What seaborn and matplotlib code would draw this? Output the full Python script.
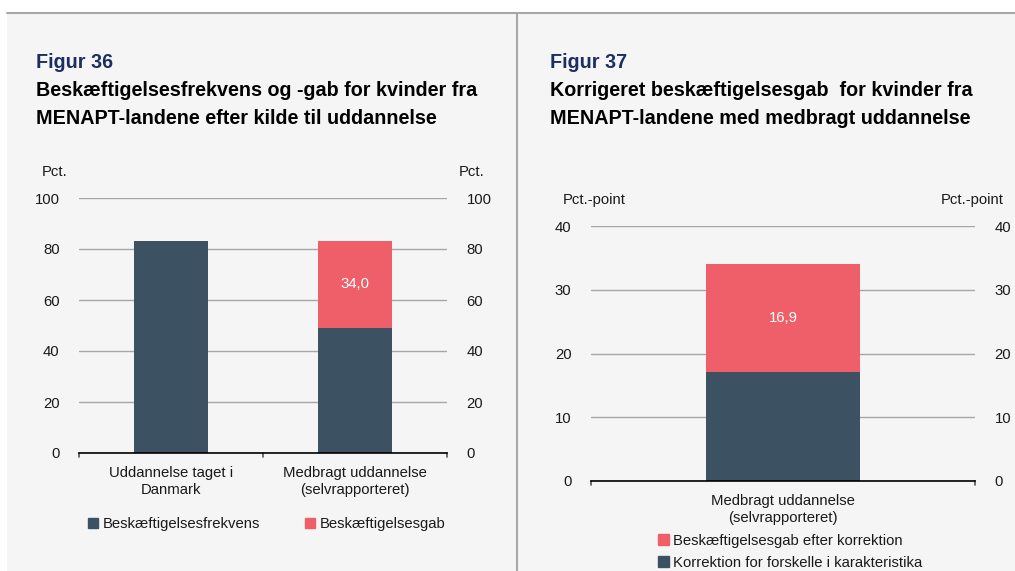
import matplotlib
matplotlib.use('Agg')
import matplotlib.pyplot as plt
import seaborn as sns
import pandas as pd
from matplotlib.patches import Rectangle
from matplotlib.lines import Line2D

# data, figur 36
cats36 = ['Uddannelse taget i\nDanmark', 'Medbragt uddannelse\n(selvrapporteret)']
frekvens = [83.2, 49.2]
gab = [0.0, 34.0]

# data, figur 37
cats37 = ['Medbragt uddannelse\n(selvrapporteret)']
korrektion = [17.1]
gab_efter = [16.9]

DARK = '#3c5263'
RED = '#ee5f6a'
BG = '#f5f5f5'
GRID = '#a6a6a6'
TXT = '#1a1a1a'

sns.set_style('white')
plt.rcParams['font.family'] = ['Liberation Sans', 'DejaVu Sans']
plt.rcParams['text.color'] = TXT

W, H = 1015, 571
fig = plt.figure(figsize=(W / 100, H / 100), dpi=100)
fig.patch.set_facecolor('white')

def px(x, y):
    return x / W, 1 - y / H

# background panel and separators
fig.patches.append(Rectangle(px(7, 571), (W - 7) / W, (571 - 13) / H,
                             transform=fig.transFigure, facecolor=BG, edgecolor='none', zorder=-5))
fig.lines.append(Line2D([7 / W, 1], [1 - 13 / H] * 2, transform=fig.transFigure, color='#a8a8a8', lw=1.5))
fig.lines.append(Line2D([517 / W] * 2, [0, 1 - 13 / H], transform=fig.transFigure, color='#a8a8a8', lw=1.5))

# titles
for x0, fig_no, l1, l2 in [
        (36, 'Figur 36', 'Beskæftigelsesfrekvens og -gab for kvinder fra',
         'MENAPT-landene efter kilde til uddannelse'),
        (550, 'Figur 37', 'Korrigeret beskæftigelsesgab  for kvinder fra',
         'MENAPT-landene med medbragt uddannelse')]:
    fig.text(*px(x0, 63), fig_no, color='#1b2f63', fontsize=14.2, fontweight='bold', va='center')
    fig.text(*px(x0, 91), l1, color='black', fontsize=14.2, fontweight='bold', va='center')
    fig.text(*px(x0, 119), l2, color='black', fontsize=14.2, fontweight='bold', va='center')


def style_axes(ax, ymax, step):
    ax.set_facecolor(BG)
    ax.patch.set_alpha(0)
    ax.set_ylim(0, ymax)
    ax.set_yticks(range(0, ymax + 1, step))
    ax.yaxis.grid(True, color=GRID, lw=1)
    ax.set_axisbelow(True)
    for s in ['top', 'left', 'right']:
        ax.spines[s].set_visible(False)
    ax.spines['bottom'].set_color('black')
    ax.spines['bottom'].set_linewidth(1.2)
    ax.tick_params(axis='y', length=0, labelsize=10.7, pad=14, labelright=True, labelcolor=TXT)
    ax.tick_params(axis='x', length=0, labelsize=10.7, pad=9, labelcolor=TXT)
    for lab in ax.get_xticklabels():
        lab.set_linespacing(1.3)
    ax.set_xlabel('')
    ax.set_ylabel('')


# figur 36
ax1 = fig.add_axes([79 / W, 1 - 453 / H, (447 - 79) / W, (453 - 198) / H])
df36 = pd.DataFrame({'kat': cats36, 'frekvens': frekvens, 'gab': gab})
df36['total'] = df36['frekvens'] + df36['gab']
sns.barplot(data=df36, x='kat', y='total', color=RED, width=0.4, saturation=1, linewidth=0, ax=ax1)
sns.barplot(data=df36, x='kat', y='frekvens', color=DARK, width=0.4, saturation=1, linewidth=0, ax=ax1)
style_axes(ax1, 100, 20)
ax1.set_xlim(-0.5, 1.5)
fig.text(*px(42, 172), 'Pct.', fontsize=10.7, ha='left', va='center')
fig.text(*px(484, 172), 'Pct.', fontsize=10.7, ha='right', va='center')
for i, (f, g) in enumerate(zip(frekvens, gab)):
    if g > 0:
        ax1.text(i, f + g / 2, f'{g:.1f}'.replace('.', ','), ha='center', va='center',
                 color='white', fontsize=10.7)
# small ticks at category edges
for xb in [-0.5, 0.5, 1.5]:
    ax1.plot([xb, xb], [0, -1.6], color='#555555', lw=1.2, clip_on=False)
ax1.legend(handles=[Rectangle((0, 0), 1, 1, color=DARK), Rectangle((0, 0), 1, 1, color=RED)],
           labels=['Beskæftigelsesfrekvens', 'Beskæftigelsesgab'], ncol=2, frameon=False,
           loc='upper center', bbox_to_anchor=(0.51, -0.2), fontsize=10.7, handlelength=0.7,
           handleheight=0.7, handletextpad=0.3, columnspacing=3.0)

# figur 37
ax2 = fig.add_axes([591 / W, 1 - 481 / H, (975 - 591) / W, (481 - 226) / H])
df37 = pd.DataFrame({'kat': cats37, 'korrektion': korrektion, 'gab': gab_efter})
df37['total'] = df37['korrektion'] + df37['gab']
sns.barplot(data=df37, x='kat', y='total', color=RED, width=0.4, saturation=1, linewidth=0, ax=ax2)
sns.barplot(data=df37, x='kat', y='korrektion', color=DARK, width=0.4, saturation=1, linewidth=0, ax=ax2)
style_axes(ax2, 40, 10)
ax2.set_xlim(-0.5, 0.5)
fig.text(*px(563, 200), 'Pct.-point', fontsize=10.7, ha='left', va='center')
fig.text(*px(1004, 200), 'Pct.-point', fontsize=10.7, ha='right', va='center')
for i, (k, g) in enumerate(zip(korrektion, gab_efter)):
    ax2.text(i, k + g / 2, f'{g:.1f}'.replace('.', ','), ha='center', va='center',
             color='white', fontsize=10.7)
for xb in [-0.5, 0.5]:
    ax2.plot([xb, xb], [0, -0.64], color='#555555', lw=1.2, clip_on=False)
ax2.legend(handles=[Rectangle((0, 0), 1, 1, color=RED), Rectangle((0, 0), 1, 1, color=DARK)],
           labels=['Beskæftigelsesgab efter korrektion', 'Korrektion for forskelle i karakteristika'],
           ncol=1, frameon=False, loc='upper left', bbox_to_anchor=(0.16, -0.183), fontsize=10.7,
           handlelength=0.7, handleheight=0.7, handletextpad=0.3, labelspacing=0.55,
           borderaxespad=0)

fig.savefig('out.png', dpi=100, facecolor='white')
